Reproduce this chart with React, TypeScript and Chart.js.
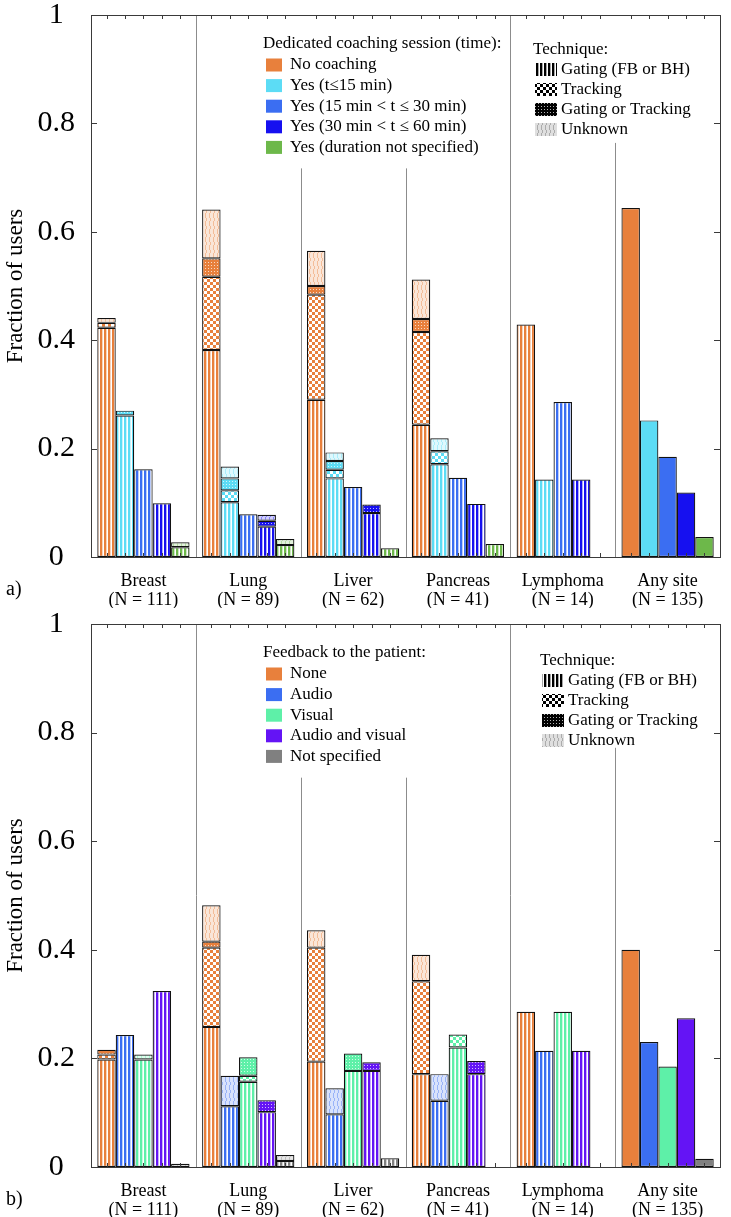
import React, { useEffect, useRef } from "react";
import { Chart, registerables } from "chart.js";

Chart.register(...registerables);

const FONT = '"Liberation Serif", "Times New Roman", serif';

// ---------- shared ----------
const sites = [
  ["Breast", "(N = 111)"],
  ["Lung", "(N = 89)"],
  ["Liver", "(N = 62)"],
  ["Pancreas", "(N = 41)"],
  ["Lymphoma", "(N = 14)"],
  ["Any site", "(N = 135)"],
];
const yTickValues = [0, 0.2, 0.4, 0.6, 0.8, 1];
const techniqueTitle = "Technique:";
const techniqueLabels = ["Gating (FB or BH)", "Tracking", "Gating or Tracking", "Unknown"];

// ---------- panel a: dedicated coaching session ----------
const coachingTitle = "Dedicated coaching session (time):";
const coachingLabels = [
  "No coaching",
  "Yes (t≤15 min)",
  "Yes (15 min < t ≤ 30 min)",
  "Yes (30 min < t ≤ 60 min)",
  "Yes (duration not specified)",
];
const coachingColors = ["#E8803C", "#5CDCF5", "#3B6EF2", "#1610F0", "#6DB84A"];

// segment heights per site [Breast, Lung, Liver, Pancreas, Lymphoma, Any site]
const aNoGating = [0.423, 0.382, 0.29, 0.244, 0.429, 0];
const aNoTracking = [0.009, 0.135, 0.194, 0.171, 0, 0];
const aNoEither = [0, 0.034, 0.016, 0.024, 0, 0];
const aNoUnknown = [0.009, 0.09, 0.065, 0.073, 0, 0];
const aNoTotal = [0, 0, 0, 0, 0, 0.644];

const aT15Gating = [0.261, 0.101, 0.145, 0.171, 0.143, 0];
const aT15Tracking = [0, 0.022, 0.016, 0.024, 0, 0];
const aT15Either = [0.009, 0.022, 0.016, 0, 0, 0];
const aT15Unknown = [0, 0.022, 0.016, 0.024, 0, 0];
const aT15Total = [0, 0, 0, 0, 0, 0.252];

const aT30Gating = [0.162, 0.079, 0.129, 0.146, 0.286, 0];
const aT30Total = [0, 0, 0, 0, 0, 0.185];

const aT60Gating = [0.099, 0.056, 0.081, 0.098, 0.143, 0];
const aT60Either = [0, 0.011, 0.016, 0, 0, 0];
const aT60Unknown = [0, 0.011, 0, 0, 0, 0];
const aT60Total = [0, 0, 0, 0, 0, 0.119];

const aNsGating = [0.018, 0.022, 0.016, 0.024, 0, 0];
const aNsUnknown = [0.009, 0.011, 0, 0, 0, 0];
const aNsTotal = [0, 0, 0, 0, 0, 0.037];

// ---------- panel b: feedback to the patient ----------
const feedbackTitle = "Feedback to the patient:";
const feedbackLabels = ["None", "Audio", "Visual", "Audio and visual", "Not specified"];
const feedbackColors = ["#E8803C", "#3B6EF2", "#5EF0A8", "#6414F5", "#808080"];

const bNoneGating = [0.198, 0.258, 0.194, 0.171, 0.286, 0];
const bNoneTracking = [0.009, 0.146, 0.21, 0.171, 0, 0];
const bNoneEither = [0.009, 0.011, 0, 0, 0, 0];
const bNoneUnknown = [0, 0.067, 0.032, 0.049, 0, 0];
const bNoneTotal = [0, 0, 0, 0, 0, 0.4];

const bAudioGating = [0.243, 0.112, 0.097, 0.122, 0.214, 0];
const bAudioUnknown = [0, 0.056, 0.048, 0.049, 0, 0];
const bAudioTotal = [0, 0, 0, 0, 0, 0.23];

const bVisualGating = [0.198, 0.157, 0.177, 0.22, 0.286, 0];
const bVisualTracking = [0, 0.011, 0, 0.024, 0, 0];
const bVisualEither = [0, 0.034, 0.032, 0, 0, 0];
const bVisualUnknown = [0.009, 0, 0, 0, 0, 0];
const bVisualTotal = [0, 0, 0, 0, 0, 0.185];

const bAvGating = [0.324, 0.101, 0.177, 0.171, 0.214, 0];
const bAvEither = [0, 0.022, 0.016, 0.024, 0, 0];
const bAvTotal = [0, 0, 0, 0, 0, 0.274];

const bNsGating = [0, 0.011, 0.016, 0, 0, 0];
const bNsUnknown = [0.006, 0.011, 0, 0, 0, 0];
const bNsTotal = [0, 0, 0, 0, 0, 0.015];

// ---------- structures ----------
type Layer = "gating" | "tracking" | "either" | "unknown" | "solid";
const LAYERS: Layer[] = ["gating", "tracking", "either", "unknown", "solid"];
interface Series {
  label: string;
  color: string;
  layers: Partial<Record<Layer, number[]>>;
}

const coachingSeries: Series[] = [
  { label: coachingLabels[0], color: coachingColors[0], layers: { gating: aNoGating, tracking: aNoTracking, either: aNoEither, unknown: aNoUnknown, solid: aNoTotal } },
  { label: coachingLabels[1], color: coachingColors[1], layers: { gating: aT15Gating, tracking: aT15Tracking, either: aT15Either, unknown: aT15Unknown, solid: aT15Total } },
  { label: coachingLabels[2], color: coachingColors[2], layers: { gating: aT30Gating, solid: aT30Total } },
  { label: coachingLabels[3], color: coachingColors[3], layers: { gating: aT60Gating, either: aT60Either, unknown: aT60Unknown, solid: aT60Total } },
  { label: coachingLabels[4], color: coachingColors[4], layers: { gating: aNsGating, unknown: aNsUnknown, solid: aNsTotal } },
];

const feedbackSeries: Series[] = [
  { label: feedbackLabels[0], color: feedbackColors[0], layers: { gating: bNoneGating, tracking: bNoneTracking, either: bNoneEither, unknown: bNoneUnknown, solid: bNoneTotal } },
  { label: feedbackLabels[1], color: feedbackColors[1], layers: { gating: bAudioGating, unknown: bAudioUnknown, solid: bAudioTotal } },
  { label: feedbackLabels[2], color: feedbackColors[2], layers: { gating: bVisualGating, tracking: bVisualTracking, either: bVisualEither, unknown: bVisualUnknown, solid: bVisualTotal } },
  { label: feedbackLabels[3], color: feedbackColors[3], layers: { gating: bAvGating, either: bAvEither, solid: bAvTotal } },
  { label: feedbackLabels[4], color: feedbackColors[4], layers: { gating: bNsGating, unknown: bNsUnknown, solid: bNsTotal } },
];

function rgbOf(hex: string) {
  const n = parseInt(hex.slice(1), 16);
  return [(n >> 16) & 255, (n >> 8) & 255, n & 255];
}

function makePattern(color: string, kind: Layer): any {
  if (kind === "solid") return color;
  const [r, g, b] = rgbOf(color);
  const col = (a: number) => `rgba(${r},${g},${b},${a})`;
  const dims: Record<string, number[]> = { gating: [4, 4], tracking: [6, 6], either: [3, 3], unknown: [4, 8] };
  const c = document.createElement("canvas");
  c.width = dims[kind][0];
  c.height = dims[kind][1];
  const x = c.getContext("2d")!;
  x.fillStyle = "#ffffff";
  x.fillRect(0, 0, c.width, c.height);
  if (kind === "gating") {
    x.fillStyle = col(1);
    x.fillRect(0, 0, 2, 4);
    x.fillStyle = col(0.35);
    x.fillRect(2, 0, 1, 4);
  } else if (kind === "tracking") {
    x.fillStyle = col(1);
    x.fillRect(0, 0, 3, 3);
    x.fillRect(3, 3, 3, 3);
  } else if (kind === "either") {
    x.fillStyle = col(1);
    x.fillRect(0, 0, 3, 3);
    x.fillStyle = "rgba(255,255,255,0.7)";
    x.fillRect(1, 1, 1, 1);
  } else {
    x.fillStyle = col(0.2);
    x.fillRect(0, 0, c.width, c.height);
    x.fillStyle = col(0.4);
    const pts = [[1, 0], [1, 1], [2, 2], [2, 3], [2, 4], [1, 5], [1, 6], [1, 7]];
    pts.forEach(([px, py]) => x.fillRect(px, py, 1, 1));
  }
  return x.createPattern(c, "repeat");
}

interface PanelCfg {
  legendTitle: string;
  legendLabels: string[];
  legendColors: string[];
  legendX: number;
  legendY: number;
  techX: number;
  techY: number;
  separatorTops: number[];
  panelLabel: string;
  panelLabelY: number;
}

const CAT_PCT = 0.88;

function decorPlugin(cfg: PanelCfg, nSeries: number) {
  return {
    id: "decor",
    beforeDatasetsDraw(chart: any) {
      const { ctx, chartArea: a, scales } = chart;
      const xs = scales.x;
      const ys = scales.y;
      ctx.save();
      ctx.strokeStyle = "#8c8c8c";
      ctx.lineWidth = 1;
      cfg.separatorTops.forEach((top, k) => {
        const px = Math.round((xs.getPixelForValue(k) + xs.getPixelForValue(k + 1)) / 2) + 0.5;
        ctx.beginPath();
        ctx.moveTo(px, ys.getPixelForValue(top));
        ctx.lineTo(px, a.bottom);
        ctx.stroke();
      });
      ctx.restore();
    },
    afterDraw(chart: any) {
      const { ctx, chartArea: a, scales } = chart;
      const xs = scales.x;
      const ys = scales.y;
      ctx.save();
      // frame
      ctx.strokeStyle = "#3a3a3a";
      ctx.lineWidth = 1;
      ctx.strokeRect(Math.round(a.left) + 0.5, Math.round(a.top) + 0.5, Math.round(a.right - a.left), Math.round(a.bottom - a.top));
      // ticks at bar centres (top & bottom)
      const catW = xs.getPixelForValue(1) - xs.getPixelForValue(0);
      const barW = (catW * CAT_PCT) / nSeries;
      ctx.beginPath();
      for (let i = 0; i < sites.length; i++) {
        const c = xs.getPixelForValue(i);
        for (let j = 0; j < nSeries; j++) {
          const px = Math.round(c + (j - (nSeries - 1) / 2) * barW) + 0.5;
          ctx.moveTo(px, a.bottom);
          ctx.lineTo(px, a.bottom - 4);
          ctx.moveTo(px, a.top);
          ctx.lineTo(px, a.top + 4);
        }
      }
      yTickValues.forEach((v) => {
        const py = Math.round(ys.getPixelForValue(v)) + 0.5;
        ctx.moveTo(a.left, py);
        ctx.lineTo(a.left + 6, py);
        ctx.moveTo(a.right, py);
        ctx.lineTo(a.right - 6, py);
      });
      ctx.stroke();

      // legend 1 (colours)
      ctx.fillStyle = "#000";
      ctx.textBaseline = "middle";
      ctx.textAlign = "left";
      ctx.font = `17px ${FONT}`;
      ctx.fillText(cfg.legendTitle, cfg.legendX, cfg.legendY);
      cfg.legendLabels.forEach((lab, i) => {
        const cy = cfg.legendY + 21 + i * 20.6;
        ctx.fillStyle = cfg.legendColors[i];
        ctx.fillRect(cfg.legendX + 3, cy - 6.5, 16, 13);
        ctx.fillStyle = "#000";
        ctx.fillText(lab, cfg.legendX + 27, cy);
      });

      // legend 2 (technique)
      ctx.fillText(techniqueTitle, cfg.techX, cfg.techY);
      const kinds: Layer[] = ["gating", "tracking", "either", "unknown"];
      techniqueLabels.forEach((lab, i) => {
        const cy = cfg.techY + 20 + i * 20;
        ctx.fillStyle = makePattern(kinds[i] === "unknown" ? "#606060" : "#000000", kinds[i]);
        ctx.fillRect(cfg.techX + 2, cy - 7, 22, 13);
        ctx.fillStyle = "#000";
        ctx.fillText(lab, cfg.techX + 28, cy);
      });

      // panel label
      ctx.font = `20px ${FONT}`;
      ctx.fillText(cfg.panelLabel, 6, cfg.panelLabelY);
      ctx.restore();
    },
  };
}

function Panel(props: { series: Series[]; cfg: PanelCfg; height: number; plotTop: number; plotBottom: number }) {
  const ref = useRef<HTMLCanvasElement>(null);
  useEffect(() => {
    const { series, cfg, height, plotTop, plotBottom } = props;
    const datasets: any[] = [];
    series.forEach((s, si) => {
      LAYERS.forEach((l) => {
        const vals = s.layers[l];
        if (!vals) return;
        datasets.push({
          label: `${s.label} – ${l}`,
          data: vals.map((v) => (v === 0 ? null : v)),
          stack: `s${si}`,
          backgroundColor: makePattern(s.color, l),
          borderColor: "#111111",
          borderWidth: 1.2,
          borderSkipped: false,
          barPercentage: 1,
          categoryPercentage: CAT_PCT,
        });
      });
    });
    const chart = new Chart(ref.current!, {
      type: "bar",
      data: { labels: sites as any, datasets },
      options: {
        responsive: false,
        animation: false,
        devicePixelRatio: 1,
        layout: { padding: { left: 0, right: 11, top: plotTop, bottom: 0 } },
        plugins: { legend: { display: false }, tooltip: { enabled: false } },
        scales: {
          x: {
            stacked: true,
            grid: { display: false, drawTicks: false },
            border: { display: false },
            ticks: {
              color: "#000",
              font: { family: FONT, size: 18, lineHeight: 1.1 },
              padding: 14,
              maxRotation: 0,
              autoSkip: false,
            },
            afterFit: (s: any) => {
              s.height = height - plotBottom;
            },
          },
          y: {
            stacked: true,
            min: 0,
            max: 1,
            grid: { display: false, drawTicks: false },
            border: { display: false },
            afterBuildTicks: (s: any) => {
              s.ticks = yTickValues.map((v) => ({ value: v }));
            },
            ticks: {
              color: "#000",
              font: { family: FONT, size: 30, lineHeight: 0.9 },
              padding: 16,
              crossAlign: "center",
              callback: (v: any) => String(v),
            },
            title: {
              display: true,
              text: "Fraction of users",
              color: "#000",
              font: { family: FONT, size: 23 },
              padding: { top: 2, bottom: 0 },
            },
            afterFit: (s: any) => {
              s.width = 91;
              s.paddingTop = 0;
              s.paddingBottom = 0;
            },
          },
        },
      } as any,
      plugins: [decorPlugin(cfg, series.length)],
    });
    return () => chart.destroy();
  }, []);
  return <canvas ref={ref} width={731} height={props.height} style={{ display: "block" }} />;
}

const cfgA: PanelCfg = {
  legendTitle: coachingTitle,
  legendLabels: coachingLabels,
  legendColors: coachingColors,
  legendX: 263,
  legendY: 44,
  techX: 533,
  techY: 50,
  separatorTops: [1, 0.717, 0.717, 1, 0.764],
  panelLabel: "a)",
  panelLabelY: 590,
};

const cfgB: PanelCfg = {
  legendTitle: feedbackTitle,
  legendLabels: feedbackLabels,
  legendColors: feedbackColors,
  legendX: 263,
  legendY: 45,
  techX: 540,
  techY: 53,
  separatorTops: [1, 0.717, 0.717, 1, 0.772],
  panelLabel: "b)",
  panelLabelY: 592,
};

export default function App() {
  useEffect(() => {
    document.body.style.margin = "0";
    document.body.style.background = "#fff";
  }, []);
  return (
    <div style={{ width: 731, height: 1217, background: "#fff" }}>
      <Panel series={coachingSeries} cfg={cfgA} height={608} plotTop={15} plotBottom={557} />
      <Panel series={feedbackSeries} cfg={cfgB} height={609} plotTop={16} plotBottom={559} />
    </div>
  );
}
